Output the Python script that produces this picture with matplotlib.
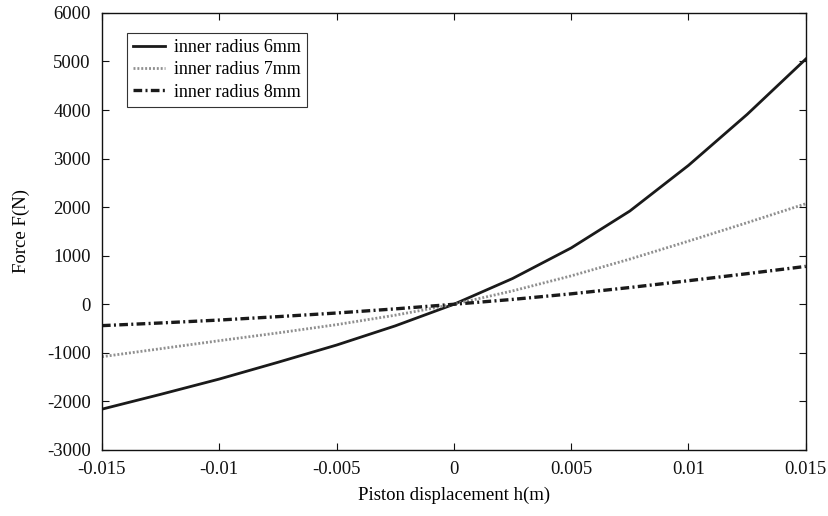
import matplotlib
matplotlib.use("Agg")
import matplotlib.pyplot as plt

h = [-0.015, -0.0125, -0.01, -0.0075, -0.005, -0.0025, 0.0,
     0.0025, 0.005, 0.0075, 0.01, 0.0125, 0.015]
force_6mm = [-2160, -1855, -1540, -1195, -840, -445, 0,
             530, 1160, 1920, 2860, 3910, 5050]
force_7mm = [-1080, -915, -750, -590, -420, -225, 0,
             275, 585, 930, 1300, 1680, 2070]
force_8mm = [-440, -385, -325, -255, -180, -95, 0,
             100, 215, 345, 485, 630, 780]

xticks = [-0.015, -0.01, -0.005, 0, 0.005, 0.01, 0.015]
xtick_labels = ["-0.015", "-0.01", "-0.005", "0", "0.005", "0.01", "0.015"]
yticks = [-3000, -2000, -1000, 0, 1000, 2000, 3000, 4000, 5000, 6000]
labels = ["inner radius 6mm", "inner radius 7mm", "inner radius 8mm"]

plt.rcParams['font.family'] = ['Liberation Serif', 'DejaVu Serif']
plt.rcParams['axes.unicode_minus'] = False

fig = plt.figure(figsize=(8.29, 5.16), dpi=100)
ax = fig.add_axes([0.123, 0.128, 0.849, 0.847])

ax.plot(h, force_6mm, color='#1a1a1a', lw=2.0, ls='-', label=labels[0])
ax.plot(h, force_7mm, color='#8f8f8f', lw=2.0, ls=(0, (0.7, 0.7)), label=labels[1])
ax.plot(h, force_8mm, color='#1a1a1a', lw=2.4, ls=(0, (2.6, 1.0, 0.6, 1.0)), label=labels[2])

ax.set_xlim(-0.015, 0.015)
ax.set_ylim(-3000, 6000)
ax.set_xticks(xticks)
ax.set_xticklabels(xtick_labels)
ax.set_yticks(yticks)
ax.tick_params(direction='in', length=5, width=0.8, top=True, right=True,
               labelsize=13.5, pad=8, colors='#111111')
for s in ax.spines.values():
    s.set_linewidth(1.0)
    s.set_color('#111111')

ax.set_xlabel("Piston displacement h(m)", fontsize=13.5, labelpad=6)
ax.set_ylabel("Force F(N)", fontsize=13.5, labelpad=12)

leg = ax.legend(loc='upper left', bbox_to_anchor=(0.035, 0.955), fontsize=13,
                frameon=True, fancybox=False, framealpha=1, edgecolor='#333333',
                handlelength=1.75, handletextpad=0.5, labelspacing=0.3,
                borderpad=0.35, borderaxespad=0)
leg.get_frame().set_linewidth(0.8)

fig.savefig("out.png", dpi=100)
